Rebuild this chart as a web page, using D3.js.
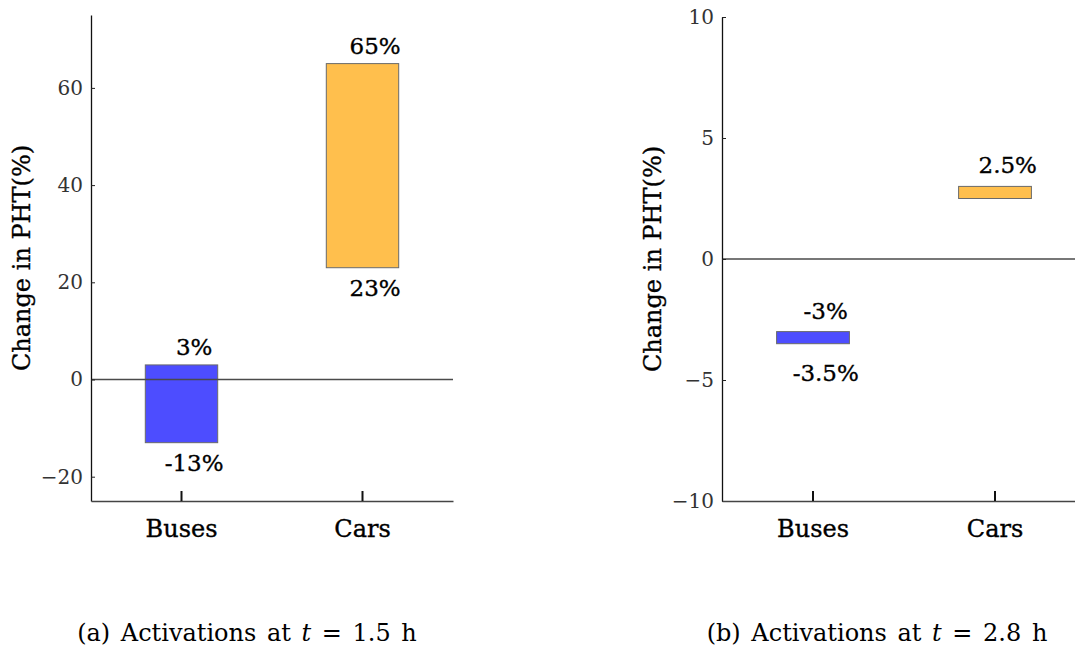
<!DOCTYPE html>
<html>
<head>
<meta charset="utf-8">
<script src="https://cdn.jsdelivr.net/npm/d3@7"></script>
<style>
  body { margin: 0; background: #fff; }
  svg, svg text { font-family: 'DejaVu Serif', serif; }
  .heavy { stroke: #000; stroke-width: 0.35px; }
</style>
</head>
<body>
<div id="chart"></div>
<script>
const categories = ['Buses', 'Cars'];
const barColors = ['#4d4dff', '#ffbf4d'];

// panel (a)
const domainA = [-25, 75];
const ticksA = [-20, 0, 20, 40, 60];
const lowA = [-13, 23];
const highA = [3, 65];
const topLabelsA = ['3%', '65%'];
const bottomLabelsA = ['-13%', '23%'];
const captionA = ['(a) Activations at ', 't', ' = 1.5 h'];

// panel (b)
const domainB = [-10, 10];
const ticksB = [-10, -5, 0, 5, 10];
const lowB = [-3.5, 2.5];
const highB = [-3, 3];
const topLabelsB = ['-3%', '2.5%'];
const bottomLabelsB = ['-3.5%', ''];
const captionB = ['(b) Activations at ', 't', ' = 2.8 h'];

const width = 1075;
const height = 654;
const serif = "'DejaVu Serif', serif";

const svg = d3.select('#chart')
    .append('svg')
    .attr('width', width)
    .attr('height', height);

const panels = [
    {left: 91, right: 453, top: 15, bottom: 501, domain: domainA, ticks: ticksA,
     low: lowA, high: highA, topLabels: topLabelsA, bottomLabels: bottomLabelsA,
     topGap: 10, bottomGap: 28, labelX: 22, caption: captionA, captionX: 247},
    {left: 722, right: 1086, top: 17, bottom: 501, domain: domainB, ticks: ticksB,
     low: lowB, high: highB, topLabels: topLabelsB, bottomLabels: bottomLabelsB,
     topGap: 13, bottomGap: 37, labelX: 653, caption: captionB, captionX: 877}
];

panels.forEach(drawPanel);

function drawPanel(p) {
    const g = svg.append('g');

    const x = d3.scaleBand()
        .domain(categories)
        .range([p.left, p.right])
        .padding(0);

    const y = d3.scaleLinear()
        .domain(p.domain)
        .range([p.bottom, p.top]);

    const barW = x.bandwidth() * 0.4;
    const shift = x.bandwidth() * 0.07;

    const rows = categories.map((c, i) => ({
        cat: c, low: p.low[i], high: p.high[i],
        top: p.topLabels[i], bottom: p.bottomLabels[i], color: barColors[i]
    }));

    // bars
    g.selectAll('.bar')
        .data(rows)
        .join('rect')
        .attr('class', 'bar')
        .attr('x', d => x(d.cat) + x.bandwidth() / 2 - barW / 2)
        .attr('width', barW)
        .attr('y', d => y(d.high))
        .attr('height', d => y(d.low) - y(d.high))
        .attr('fill', d => d.color)
        .attr('stroke', '#6a6a6a')
        .attr('stroke-width', 1);

    // zero line
    g.append('line')
        .attr('x1', p.left)
        .attr('x2', p.right)
        .attr('y1', y(0))
        .attr('y2', y(0))
        .attr('stroke', '#4a4a4a')
        .attr('stroke-width', 1.3);

    // y axis
    const yAxis = g.append('g')
        .attr('transform', `translate(${p.left},0)`)
        .call(d3.axisLeft(y).tickValues(p.ticks).tickSizeInner(-4).tickSizeOuter(0).tickPadding(8))
        .attr('font-family', serif);
    yAxis.select('.domain').attr('stroke', '#111').attr('stroke-width', 1.3);
    yAxis.selectAll('.tick line').attr('stroke', '#222');
    yAxis.selectAll('.tick text')
        .style('font-size', '20px')
        .attr('fill', '#333');

    // x axis
    const xAxis = g.append('g')
        .attr('transform', `translate(0,${p.bottom})`)
        .call(d3.axisBottom(x).tickSizeInner(-10).tickSizeOuter(0).tickPadding(26))
        .attr('font-family', serif);
    xAxis.select('.domain').attr('stroke', '#444').attr('stroke-width', 1.3);
    xAxis.selectAll('.tick line').attr('stroke', '#111').attr('stroke-width', 2);
    xAxis.selectAll('.tick text')
        .attr('class', 'heavy')
        .style('font-size', '24px')
        .attr('fill', '#000')
        .attr('dy', '0.4em');

    // value labels
    g.selectAll('.toplab')
        .data(rows)
        .join('text')
        .attr('class', 'toplab heavy')
        .attr('x', d => x(d.cat) + x.bandwidth() / 2 + shift)
        .attr('y', d => y(d.high) - p.topGap)
        .attr('text-anchor', 'middle')
        .style('font-size', '23px')
        .text(d => d.top);

    g.selectAll('.botlab')
        .data(rows)
        .join('text')
        .attr('class', 'botlab heavy')
        .attr('x', d => x(d.cat) + x.bandwidth() / 2 + shift)
        .attr('y', d => y(d.low) + p.bottomGap)
        .attr('text-anchor', 'middle')
        .style('font-size', '23px')
        .text(d => d.bottom);

    // y label
    g.append('text')
        .attr('class', 'heavy')
        .attr('transform', `translate(${p.labelX},${(p.top + p.bottom) / 2}) rotate(-90)`)
        .attr('text-anchor', 'middle')
        .attr('dy', '0.35em')
        .style('font-size', '24px')
        .text('Change in PHT(%)');

    // caption
    const cap = g.append('text')
        .attr('x', p.captionX)
        .attr('y', 641)
        .attr('text-anchor', 'middle')
        .style('font-size', '24px')
        .style('word-spacing', '3px')
        .attr('xml:space', 'preserve');
    cap.append('tspan').text(p.caption[0]);
    cap.append('tspan').style('font-style', 'italic').text(p.caption[1]);
    cap.append('tspan').text(p.caption[2]);
}
</script>
</body>
</html>
